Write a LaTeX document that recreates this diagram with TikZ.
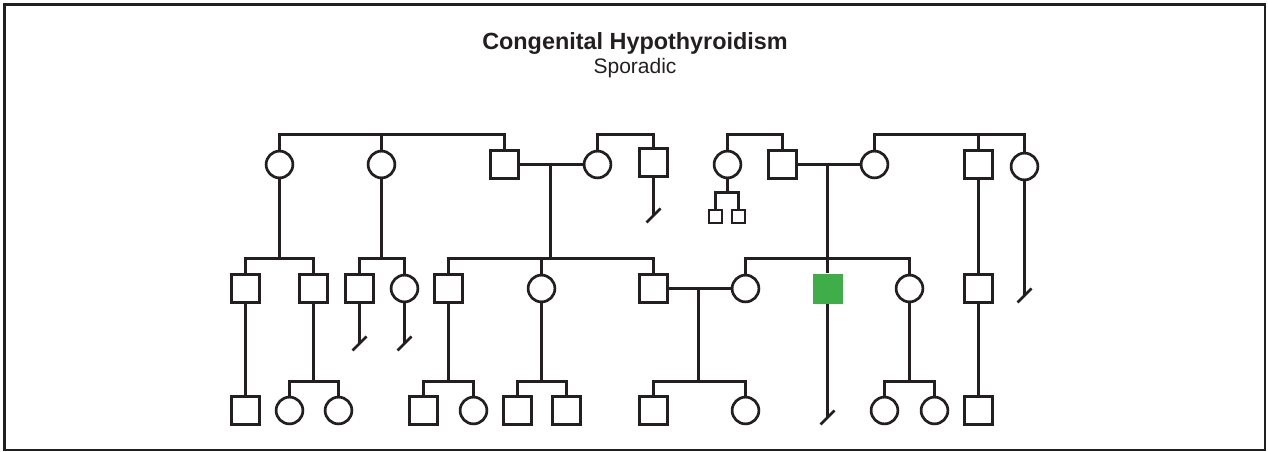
\documentclass[tikz,border=0pt]{standalone}
\usepackage{fontspec}
\setmainfont{Liberation Sans}
\usetikzlibrary{positioning,calc}
\definecolor{pedline}{HTML}{231F20}
\definecolor{affgreen}{HTML}{3FAE49}
\tikzset{
  male/.style={rectangle, draw=pedline, line width=2.7pt, fill=white, minimum size=27.4pt, inner sep=0pt},
  female/.style={circle, draw=pedline, line width=2.7pt, fill=white, minimum size=26.8pt, inner sep=0pt},
  affmale/.style={rectangle, fill=affgreen, minimum size=30pt, inner sep=0pt},
  twinmale/.style={rectangle, draw=pedline, line width=2.2pt, fill=white, minimum size=13.4pt, inner sep=0pt},
  pline/.style={draw=pedline, line width=2.7pt},
}

\begin{document}
\begin{tikzpicture}[x=1pt, y=-1pt]
\useasboundingbox (0,0) rectangle (1268,452);
\draw[draw=pedline, line width=2.8pt] (4.5,4.5) rectangle (1265,450);
\node[anchor=base, font=\fontsize{23.4}{28}\selectfont\bfseries, text=pedline] (title) at (635,50) {Congenital Hypothyroidism};
\node[anchor=base, font=\fontsize{21}{25}\selectfont, text=pedline] (subtitle) at (635,74) {Sporadic};
% rows
\coordinate (s1) at (0,134.5);
\coordinate (g2) at (0,258.5);
\coordinate (g3) at (0,381.5);
% generation I
\node[female] (I1) at (279.5,164.5) {};
\node[female] (I2) at (381.5,164.5) {};
\node[male] (I3) at (504.5,164.5) {};
\node[female] (I4) at (597.5,164.5) {};
\node[male] (I5) at (653.5,162.5) {};
\node[female] (I6) at (727.5,164.5) {};
\node[male] (I7) at (782.5,164.5) {};
\node[female] (I8) at (874.5,164.5) {};
\node[male] (I9) at (978.5,164.5) {};
\node[female] (I10) at (1024.5,166.5) {};
\node[twinmale] (T1) at (715.5,216.5) {};
\node[twinmale] (T2) at (738.5,216.5) {};
% generation II
\node[male] (II1) at (245.5,288.5) {};
\node[male] (II2) at (313.5,288.5) {};
\node[male] (II3) at (359.5,288.5) {};
\node[female] (II4) at (404.5,288.5) {};
\node[male] (II5) at (448.5,288.5) {};
\node[female] (II6) at (541.5,288.5) {};
\node[male] (II7) at (653.5,288.5) {};
\node[female] (II8) at (745.5,288.5) {};
\node[affmale] (II9) at (827.5,288.5) {};
\node[female] (II10) at (909.5,288.5) {};
\node[male] (II11) at (978.5,288.5) {};
% generation III
\node[male] (III1) at (245.5,410.5) {};
\node[female] (III2) at (289.5,410.5) {};
\node[female] (III3) at (338.5,410.5) {};
\node[male] (III4) at (423.5,410.5) {};
\node[female] (III5) at (473.5,410.5) {};
\node[male] (III6) at (517.5,410.5) {};
\node[male] (III7) at (566.5,410.5) {};
\node[male] (III8) at (653.5,410.5) {};
\node[female] (III9) at (745.5,410.5) {};
\node[female] (III10) at (884.5,410.5) {};
\node[female] (III11) at (934.5,410.5) {};
\node[male] (III12) at (978.5,410.5) {};
% sibships of generation I
\draw[pline] (I1.north) -- (I1 |- s1) -- (I3 |- s1) -- (I3.north);
\draw[pline] (I2.north) -- (I2 |- s1);
\draw[pline] (I4.north) -- (I4 |- s1) -- (I5 |- s1) -- (I5.north);
\draw[pline] (I6.north) -- (I6 |- s1) -- (I7 |- s1) -- (I7.north);
\draw[pline] (I8.north) -- (I8 |- s1) -- (I10 |- s1) -- (I10.north);
\draw[pline] (I9.north) -- (I9 |- s1);
% couples
\draw[pline] (I3) -- (I4);
\draw[pline] (I7) -- (I8);
\draw[pline] (II7) -- (II8);
\coordinate (m1) at (550.5,164.5);
\coordinate (m2) at (827.5,164.5);
\coordinate (m3) at (698.5,288.5);
% twins
\coordinate (tw) at (727.5,192.5);
\draw[pline] (I6.south) -- (tw);
\draw[draw=pedline, line width=2.2pt] (T1.north) -- (T1 |- tw) -- (T2 |- tw) -- (T2.north);
% no offspring
\coordinate (x1) at (653.5,215.5);
\coordinate (x2) at (359.5,343.5);
\coordinate (x3) at (404.5,343.5);
\coordinate (x4) at (1024.5,295.5);
\coordinate (x5) at (827.5,417.5);
\draw[pline] (I5.south) -- (x1);
\draw[pline] (x1) ++(-7,7) -- ++(14,-14);
\draw[pline] (II3.south) -- (x2);
\draw[pline] (x2) ++(-7,7) -- ++(14,-14);
\draw[pline] (II4.south) -- (x3);
\draw[pline] (x3) ++(-7,7) -- ++(14,-14);
\draw[pline] (I10.south) -- (x4);
\draw[pline] (x4) ++(-7,7) -- ++(14,-14);
\draw[pline] (II9.south) -- (x5);
\draw[pline] (x5) ++(-7,7) -- ++(14,-14);
% sibships of generation II
\draw[pline] (I1.south) -- (I1 |- g2);
\draw[pline] (II1.north) -- (II1 |- g2) -- (II2 |- g2) -- (II2.north);
\draw[pline] (I2.south) -- (I2 |- g2);
\draw[pline] (II3.north) -- (II3 |- g2) -- (II4 |- g2) -- (II4.north);
\draw[pline] (m1) -- (m1 |- g2);
\draw[pline] (II5.north) -- (II5 |- g2) -- (II7 |- g2) -- (II7.north);
\draw[pline] (II6.north) -- (II6 |- g2);
\draw[pline] (m2) -- (II9.north);
\draw[pline] (II8.north) -- (II8 |- g2) -- (II10 |- g2) -- (II10.north);
\draw[pline] (I9) -- (II11);
% sibships of generation III
\draw[pline] (II1) -- (III1);
\draw[pline] (II2.south) -- (II2 |- g3);
\draw[pline] (III2.north) -- (III2 |- g3) -- (III3 |- g3) -- (III3.north);
\draw[pline] (II5.south) -- (II5 |- g3);
\draw[pline] (III4.north) -- (III4 |- g3) -- (III5 |- g3) -- (III5.north);
\draw[pline] (II6.south) -- (II6 |- g3);
\draw[pline] (III6.north) -- (III6 |- g3) -- (III7 |- g3) -- (III7.north);
\draw[pline] (m3) -- (m3 |- g3);
\draw[pline] (III8.north) -- (III8 |- g3) -- (III9 |- g3) -- (III9.north);
\draw[pline] (II10.south) -- (II10 |- g3);
\draw[pline] (III10.north) -- (III10 |- g3) -- (III11 |- g3) -- (III11.north);
\draw[pline] (II11) -- (III12);
\end{tikzpicture}
\end{document}
